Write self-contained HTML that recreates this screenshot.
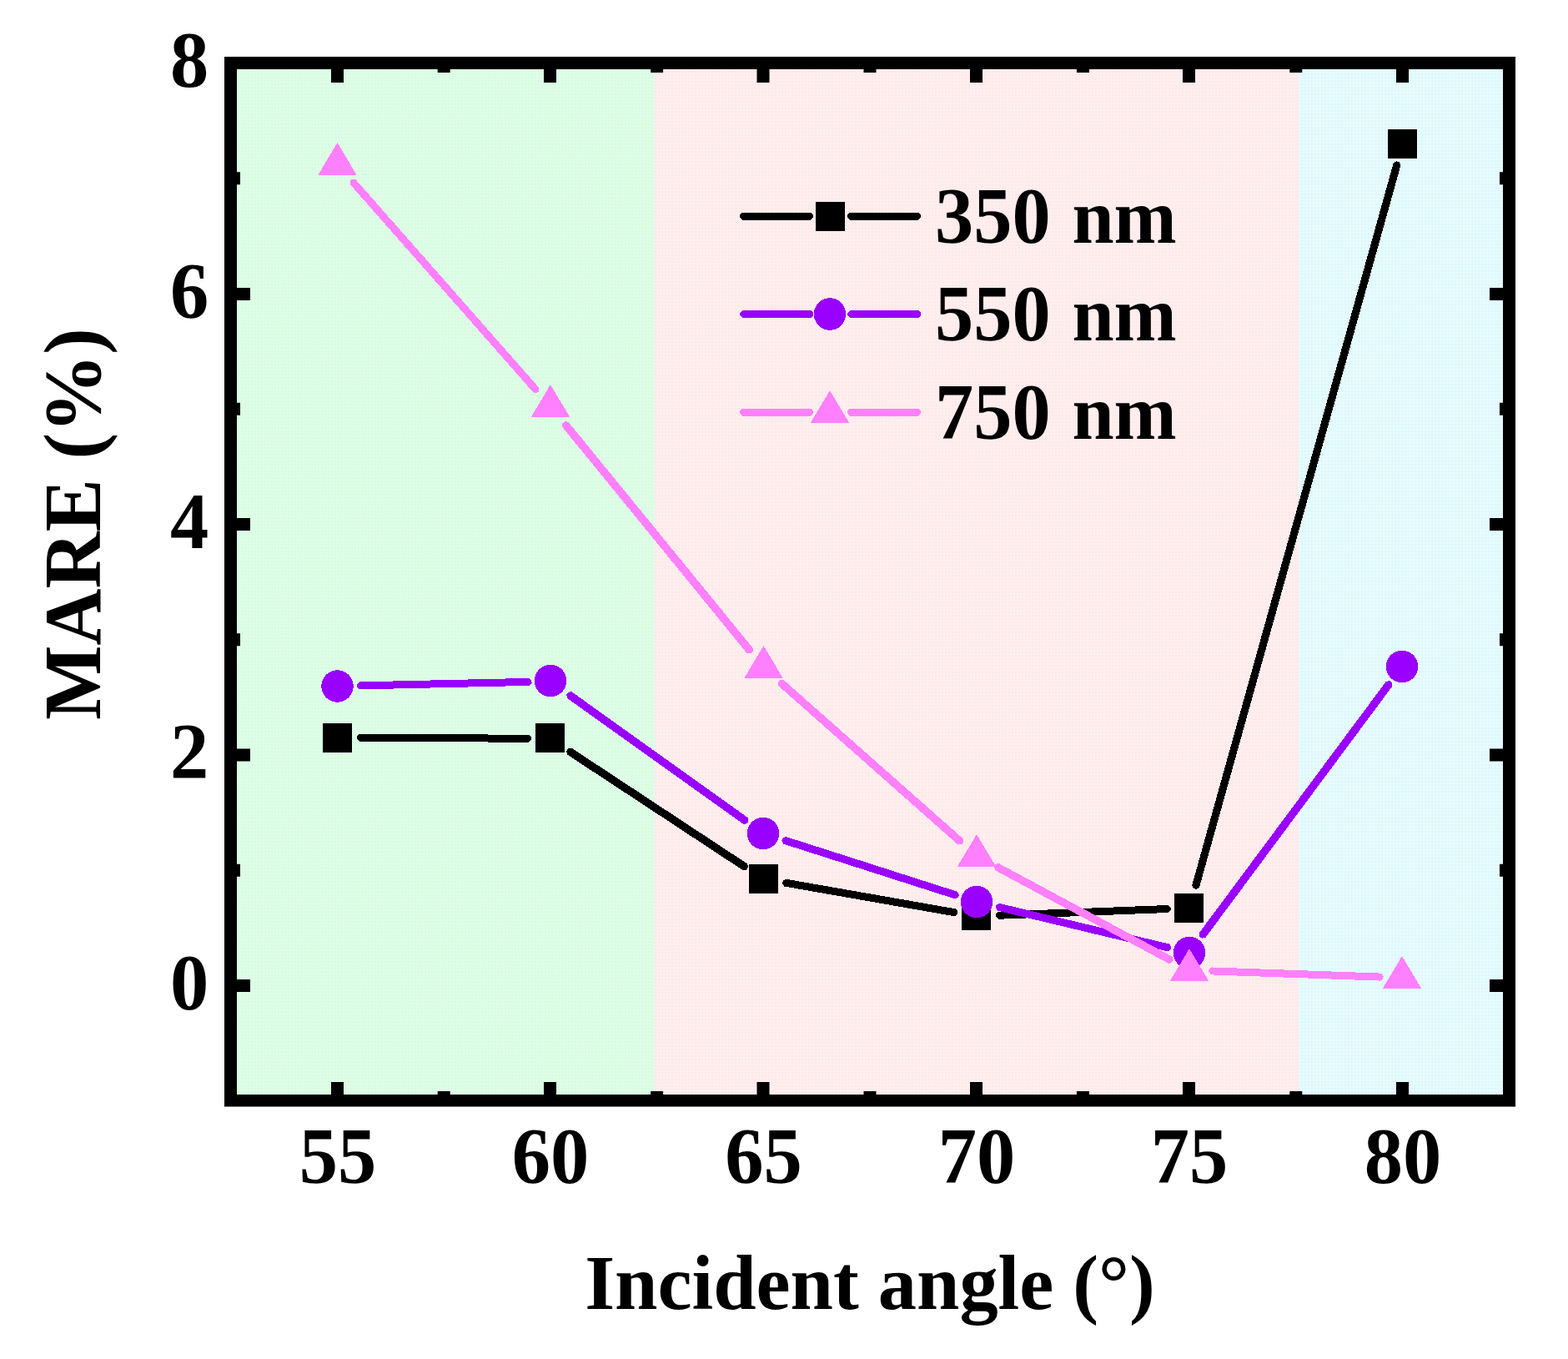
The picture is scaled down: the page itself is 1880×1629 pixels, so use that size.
<!DOCTYPE html>
<html lang="en">
<head>
<meta charset="utf-8">
<title>MARE vs incident angle</title>
<style>
html,body{margin:0;padding:0;background:#fff;}
body{width:1880px;height:1629px;overflow:hidden;}
svg{display:block;}
</style>
</head>
<body>
<svg width="1880" height="1629" viewBox="0 0 1880 1629">
<rect x="0" y="0" width="1880" height="1629" fill="#ffffff"/>
<defs>
<pattern id="pg" width="4" height="4" patternUnits="userSpaceOnUse" shape-rendering="crispEdges"><rect width="4" height="4" fill="#DEFDE6"/><rect x="1" y="0" width="1" height="1" fill="#CEFADA"/><rect x="2" y="1" width="1" height="1" fill="#CEFADA"/></pattern>
<pattern id="pp" width="4" height="4" patternUnits="userSpaceOnUse" shape-rendering="crispEdges"><rect width="4" height="4" fill="#FFEEEE"/><rect x="1" y="1" width="2" height="2" fill="#FEE7E9"/></pattern>
<pattern id="pc" width="4" height="4" patternUnits="userSpaceOnUse" shape-rendering="crispEdges"><rect width="4" height="4" fill="#E1FBFE"/><rect x="0" y="0" width="2" height="2" fill="#E2F5FD"/><rect x="2" y="2" width="2" height="2" fill="#E9FEFC"/></pattern>
</defs>
<rect x="283" y="82" width="502" height="1231" fill="url(#pg)"/>
<rect x="785" y="82" width="772" height="1231" fill="url(#pp)"/>
<rect x="1557" y="82" width="246" height="1231" fill="url(#pc)"/>
<g id="data" shape-rendering="crispEdges">
<polygon points="428.01,882.89 431.02,879.90 634.02,880.70 637.01,883.71 636.99,886.71 633.98,889.70 430.98,888.90 427.99,885.89" fill="#000000"/>
<polygon points="681.13,897.49 685.28,896.63 896.15,1035.45 897.01,1039.61 895.13,1042.46 890.97,1043.32 680.10,904.50 679.24,900.35" fill="#000000"/>
<polygon points="938.58,1056.08 942.05,1053.65 1146.14,1089.43 1148.58,1092.90 1148.05,1095.92 1144.58,1098.35 940.49,1062.57 938.05,1059.09" fill="#000000"/>
<polygon points="1193.93,1095.90 1196.82,1092.79 1400.65,1084.98 1403.76,1087.86 1403.87,1090.86 1400.99,1093.97 1197.16,1101.78 1194.05,1098.90" fill="#000000"/>
<polygon points="1431.21,1065.06 1429.13,1061.36 1670.73,195.39 1674.43,193.30 1677.45,194.15 1679.53,197.84 1437.93,1063.81 1434.23,1065.90" fill="#000000"/>
<rect x="387.0" y="867.0" width="35" height="35" fill="#000000"/>
<rect x="642.0" y="867.0" width="35" height="35" fill="#000000"/>
<rect x="897.5" y="1036.0" width="35" height="35" fill="#000000"/>
<rect x="1153.0" y="1080.0" width="35" height="35" fill="#000000"/>
<rect x="1408.0" y="1071.0" width="35" height="35" fill="#000000"/>
<rect x="1663.5" y="154.5" width="35" height="35" fill="#000000"/>
<polygon points="427.96,820.48 430.90,817.41 634.41,812.87 637.47,815.80 637.54,818.80 634.61,821.87 431.10,826.41 428.03,823.48" fill="#9900FF"/>
<polygon points="681.22,829.84 685.40,829.14 896.85,980.23 897.55,984.41 895.55,987.22 891.36,987.91 679.91,836.83 679.21,832.64" fill="#9900FF"/>
<polygon points="938.35,1004.81 942.12,1002.87 1148.05,1068.83 1149.99,1072.61 1149.02,1075.62 1145.25,1077.57 939.32,1011.60 937.38,1007.83" fill="#9900FF"/>
<polygon points="1194.51,1085.03 1198.13,1082.81 1402.22,1131.63 1404.44,1135.25 1403.72,1138.26 1400.10,1140.48 1196.01,1091.66 1193.79,1088.05" fill="#9900FF"/>
<polygon points="1438.22,1122.67 1437.60,1118.47 1661.88,816.79 1666.08,816.17 1668.85,818.24 1669.47,822.43 1445.19,1124.12 1440.99,1124.73" fill="#9900FF"/>
<circle cx="404.5" cy="822.5" r="19.25" fill="#9900FF"/>
<circle cx="660" cy="816" r="19.25" fill="#9900FF"/>
<circle cx="915" cy="999" r="19.25" fill="#9900FF"/>
<circle cx="1171" cy="1081" r="19.25" fill="#9900FF"/>
<circle cx="1426" cy="1142" r="19.25" fill="#9900FF"/>
<circle cx="1681" cy="799" r="19.25" fill="#9900FF"/>
<polygon points="422.10,214.78 426.33,215.05 646.35,464.78 646.08,469.01 643.91,470.93 639.67,470.66 419.66,220.93 419.92,216.70" fill="#FF80FF"/>
<polygon points="677.12,505.22 681.34,505.65 902.93,777.10 902.50,781.32 899.80,783.52 895.58,783.09 674.00,511.64 674.42,507.42" fill="#FF80FF"/>
<polygon points="935.37,815.24 939.60,814.98 1154.90,1005.42 1155.16,1009.65 1152.84,1012.27 1148.61,1012.53 933.31,822.09 933.05,817.86" fill="#FF80FF"/>
<polygon points="1193.41,1036.14 1197.47,1034.92 1405.63,1146.75 1406.85,1150.81 1405.26,1153.76 1401.20,1154.98 1193.05,1043.15 1191.83,1039.09" fill="#FF80FF"/>
<polygon points="1449.55,1162.33 1452.65,1159.44 1655.67,1166.60 1658.57,1169.71 1658.46,1172.71 1655.36,1175.60 1452.33,1168.43 1449.44,1165.33" fill="#FF80FF"/>
<polygon points="404.5,171 427.75,210 381.25,210" fill="#FF80FF"/>
<polygon points="660,461 683.25,500 636.75,500" fill="#FF80FF"/>
<polygon points="915.5,774 938.75,813 892.25,813" fill="#FF80FF"/>
<polygon points="1171,1000 1194.25,1039 1147.75,1039" fill="#FF80FF"/>
<polygon points="1426,1137 1449.25,1176 1402.75,1176" fill="#FF80FF"/>
<polygon points="1681,1146 1704.25,1185 1657.75,1185" fill="#FF80FF"/>
</g>
<path fill="#000" fill-rule="evenodd" d="M269 68H1817V1326.5H269Z M284 83V1312H1802V83Z"/>
<g fill="#000">
<rect x="397.0" y="83" width="15" height="16"/>
<rect x="397.0" y="1297" width="15" height="16"/>
<rect x="652.0" y="83" width="15" height="16"/>
<rect x="652.0" y="1297" width="15" height="16"/>
<rect x="907.5" y="83" width="15" height="16"/>
<rect x="907.5" y="1297" width="15" height="16"/>
<rect x="1163.0" y="83" width="15" height="16"/>
<rect x="1163.0" y="1297" width="15" height="16"/>
<rect x="1418.0" y="83" width="15" height="16"/>
<rect x="1418.0" y="1297" width="15" height="16"/>
<rect x="1674.0" y="83" width="15" height="16"/>
<rect x="1674.0" y="1297" width="15" height="16"/>
<rect x="524.70" y="83" width="15" height="4"/>
<rect x="524.70" y="1308" width="15" height="4"/>
<rect x="780.10" y="83" width="15" height="4"/>
<rect x="780.10" y="1308" width="15" height="4"/>
<rect x="1035.50" y="83" width="15" height="4"/>
<rect x="1035.50" y="1308" width="15" height="4"/>
<rect x="1290.90" y="83" width="15" height="4"/>
<rect x="1290.90" y="1308" width="15" height="4"/>
<rect x="1546.30" y="83" width="15" height="4"/>
<rect x="1546.30" y="1308" width="15" height="4"/>
<rect x="284" y="345.0" width="16" height="15"/>
<rect x="1786" y="345.0" width="16" height="15"/>
<rect x="284" y="621.0" width="16" height="15"/>
<rect x="1786" y="621.0" width="16" height="15"/>
<rect x="284" y="897.5" width="16" height="15"/>
<rect x="1786" y="897.5" width="16" height="15"/>
<rect x="284" y="1174.0" width="16" height="15"/>
<rect x="1786" y="1174.0" width="16" height="15"/>
<rect x="284" y="206.25" width="4" height="15"/>
<rect x="1798" y="206.25" width="4" height="15"/>
<rect x="284" y="482.75" width="4" height="15"/>
<rect x="1798" y="482.75" width="4" height="15"/>
<rect x="284" y="759.25" width="4" height="15"/>
<rect x="1798" y="759.25" width="4" height="15"/>
<rect x="284" y="1035.75" width="4" height="15"/>
<rect x="1798" y="1035.75" width="4" height="15"/>
</g>
<g font-family='"Liberation Serif", "Times New Roman", serif' font-weight="bold" fill="#000">
<text transform="translate(405.0 1417.8) scale(1 1.02)" text-anchor="middle" font-size="92.5">55</text>
<text transform="translate(660.0 1417.8) scale(1 1.02)" text-anchor="middle" font-size="92.5">60</text>
<text transform="translate(915.5 1417.8) scale(1 1.02)" text-anchor="middle" font-size="92.5">65</text>
<text transform="translate(1171.0 1417.8) scale(1 1.02)" text-anchor="middle" font-size="92.5">70</text>
<text transform="translate(1426.0 1417.8) scale(1 1.02)" text-anchor="middle" font-size="92.5">75</text>
<text transform="translate(1682.0 1417.8) scale(1 1.02)" text-anchor="middle" font-size="92.5">80</text>
<text transform="translate(250.2 103.7) scale(1 1.02)" text-anchor="end" font-size="92.5">8</text>
<text transform="translate(250.2 380.7) scale(1 1.02)" text-anchor="end" font-size="92.5">6</text>
<text transform="translate(250.2 656.7) scale(1 1.02)" text-anchor="end" font-size="92.5">4</text>
<text transform="translate(250.2 933.2) scale(1 1.02)" text-anchor="end" font-size="92.5">2</text>
<text transform="translate(250.2 1209.7) scale(1 1.02)" text-anchor="end" font-size="92.5">0</text>
<text transform="translate(1043 1569.2)" text-anchor="middle" font-size="92.4">Incident angle (°)</text>
<text transform="translate(120 628) rotate(-90) scale(1 1.03)" text-anchor="middle" font-size="94.5">MARE (%)</text>
<g shape-rendering="crispEdges"><polygon points="887.00,257.50 890.00,254.50 972.00,254.50 975.00,257.50 975.00,260.50 972.00,263.50 890.00,263.50 887.00,260.50" fill="#000000"/><polygon points="1016.00,257.50 1019.00,254.50 1101.00,254.50 1104.00,257.50 1104.00,260.50 1101.00,263.50 1019.00,263.50 1016.00,260.50" fill="#000000"/><rect x="977.5" y="241.5" width="35" height="35" fill="#000000"/></g>
<text transform="translate(1121.1 290.5) scale(1 1.03)" text-anchor="start" font-size="92.4">350<tspan font-size="90.2" dx="3.2"> nm</tspan></text>
<g shape-rendering="crispEdges"><polygon points="887.00,375.00 890.00,372.00 972.00,372.00 975.00,375.00 975.00,378.00 972.00,381.00 890.00,381.00 887.00,378.00" fill="#9900FF"/><polygon points="1016.00,375.00 1019.00,372.00 1101.00,372.00 1104.00,375.00 1104.00,378.00 1101.00,381.00 1019.00,381.00 1016.00,378.00" fill="#9900FF"/><circle cx="995" cy="376.5" r="19.25" fill="#9900FF"/></g>
<text transform="translate(1121.1 408) scale(1 1.03)" text-anchor="start" font-size="92.4">550<tspan font-size="90.2" dx="3.2"> nm</tspan></text>
<g shape-rendering="crispEdges"><polygon points="887.00,492.50 890.00,489.50 972.00,489.50 975.00,492.50 975.00,495.50 972.00,498.50 890.00,498.50 887.00,495.50" fill="#FF80FF"/><polygon points="1016.00,492.50 1019.00,489.50 1101.00,489.50 1104.00,492.50 1104.00,495.50 1101.00,498.50 1019.00,498.50 1016.00,495.50" fill="#FF80FF"/><polygon points="995,468 1018.25,507 971.75,507" fill="#FF80FF"/></g>
<text transform="translate(1121.1 525.5) scale(1 1.03)" text-anchor="start" font-size="92.4">750<tspan font-size="90.2" dx="3.2"> nm</tspan></text>
</g>
</svg>
</body>
</html>
